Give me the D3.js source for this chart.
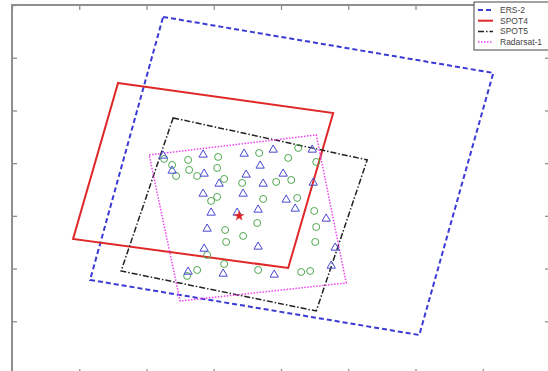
<!DOCTYPE html>
<html><head><meta charset="utf-8">
<script src="https://cdn.jsdelivr.net/npm/d3@7/dist/d3.min.js"></script>
<style>body{margin:0;background:#fff}svg{display:block}</style>
</head><body>
<script>
// ---- data (axis units) ----
const xTicks = [0,100,200,300,400,500,600,700,800];
const yTicks = [0,100,200,300,400,500,600,700];
const seriesNames = ["ERS-2","SPOT4","SPOT5","Radarsat-1"];
const ers2 = [[224.7,677.4],[715.7,571.1],[605.6,74.0],[116.1,178.4]];
const spot4 = [[157.7,552.2],[477.6,495.2],[410.7,201.1],[90.8,256.2]];
const spot5 = [[239.6,485.8],[528.2,406.1],[452.4,119.5],[162.2,195.4]];
const radarsat = [[203.9,415.6],[452.4,453.5],[497.0,172.7],[250.0,138.5]];
const triangles = [[224.7,415.6],[284.2,417.5],[345.2,419.3],[388.4,426.9],[446.4,426.9],
 [238.1,387.1],[285.7,381.4],[348.2,379.5],[369.0,396.6],[403.2,381.4],[308.0,362.4],
 [373.5,362.4],[447.9,364.3],[284.2,343.4],[343.7,343.4],[407.7,332.1],[421.1,315.0],
 [296.1,307.4],[334.8,307.4],[366.0,313.1],[467.2,296.0],[290.2,277.0],[285.7,239.1],
 [366.0,242.9],[480.6,241.0],[261.9,195.4],[314.0,191.6],[389.9,189.8],[474.7,206.8]];
const circles = [[226.2,408.0],[238.1,396.6],[261.9,406.1],[306.5,411.8],[367.5,419.3],
 [425.6,428.8],[410.7,409.9],[244.0,375.7],[263.4,387.1],[275.3,375.7],[305.0,390.9],
 [315.5,370.0],[342.2,362.4],[392.8,364.3],[415.2,368.1],[452.4,402.3],[305.0,335.9],
 [296.1,328.3],[373.5,332.1],[424.1,334.0],[449.4,309.3],[364.6,286.5],[452.4,278.9],
 [316.9,273.2],[343.7,261.9],[318.4,250.5],[450.9,250.5],[290.2,225.8],[315.5,208.7],
 [275.3,197.3],[260.4,186.0],[366.0,197.3],[430.0,193.5],[443.4,195.4]];
const star = [[337.8,299.8]];

const W = 548, H = 371;
const L = 12, T = 5, R = 550, B = 374;
const svg = d3.select("body").append("svg").attr("width",W).attr("height",H);
const x = d3.scaleLinear().domain([0,800]).range([L,R]);
const y = d3.scaleLinear().domain([0,700]).range([B,T]);

const axisCol = "#8f8f8f";
function styleAxis(g){ g.select(".domain").remove(); g.selectAll(".tick line").attr("stroke",axisCol).attr("stroke-width",1.3); g.selectAll("text").remove(); }
svg.append("g").attr("transform",`translate(0,${B})`).call(d3.axisBottom(x).tickValues(xTicks).tickSize(-5)).call(styleAxis);
svg.append("g").attr("transform",`translate(0,${T})`).call(d3.axisTop(x).tickValues(xTicks).tickSize(-5)).call(styleAxis);
svg.append("g").attr("transform",`translate(${L},0)`).call(d3.axisLeft(y).tickValues(yTicks).tickSize(-5)).call(styleAxis);
svg.append("g").attr("transform",`translate(${R},0)`).call(d3.axisRight(y).tickValues(yTicks).tickSize(-5)).call(styleAxis);
svg.append("rect").attr("x",L).attr("y",T).attr("width",R-L).attr("height",B-T)
  .attr("fill","none").attr("stroke",axisCol).attr("stroke-width",2);

const styles = [
  {data:ers2, color:"#3a3ad6", w:2, dash:"5,3"},
  {data:spot4, color:"#e02828", w:2, dash:null},
  {data:spot5, color:"#222", w:1.5, dash:"6,2,1.5,2"},
  {data:radarsat, color:"#ee44ee", w:1.5, dash:"1.5,1.5"}
];
const line = d3.line().x(d=>x(d[0])).y(d=>y(d[1])).curve(d3.curveLinearClosed);
styles.forEach(s=>{
  svg.append("path").attr("d",line(s.data)).attr("fill","none")
    .attr("stroke",s.color).attr("stroke-width",s.w)
    .attr("stroke-dasharray",s.dash);
});

svg.append("g").selectAll("path").data(circles).join("path")
  .attr("d",d3.symbol(d3.symbolCircle,38))
  .attr("transform",d=>`translate(${x(d[0])},${y(d[1])})`)
  .attr("fill","none").attr("stroke","#4fa84f").attr("stroke-width",1);
svg.append("g").selectAll("path").data(triangles).join("path")
  .attr("d",d3.symbol(d3.symbolTriangle,30))
  .attr("transform",d=>`translate(${x(d[0])},${y(d[1])+0.8})`)
  .attr("fill","none").attr("stroke","#4848d0").attr("stroke-width",1);
svg.append("g").selectAll("path").data(star).join("path")
  .attr("d",d3.symbol(d3.symbolStar,26))
  .attr("transform",d=>`translate(${x(d[0])},${y(d[1])})`)
  .attr("fill","#e02020").attr("stroke","#e02020").attr("stroke-width",0.6);

// legend
const lg = svg.append("g");
lg.append("rect").attr("x",474).attr("y",2).attr("width",90).attr("height",48)
  .attr("fill","#fff").attr("stroke","#444").attr("stroke-width",1);
seriesNames.forEach((n,i)=>{
  const yy = 10 + i*10.7;
  lg.append("line").attr("x1",478).attr("x2",493).attr("y1",yy).attr("y2",yy)
    .attr("stroke",styles[i].color).attr("stroke-width",styles[i].w)
    .attr("stroke-dasharray",styles[i].dash);
  lg.append("text").attr("x",500).attr("y",yy+3).text(n)
    .attr("font-family","Liberation Sans, Arial, sans-serif").attr("font-size",8.5)
    .attr("fill","#444");
});
</script>
</body></html>
